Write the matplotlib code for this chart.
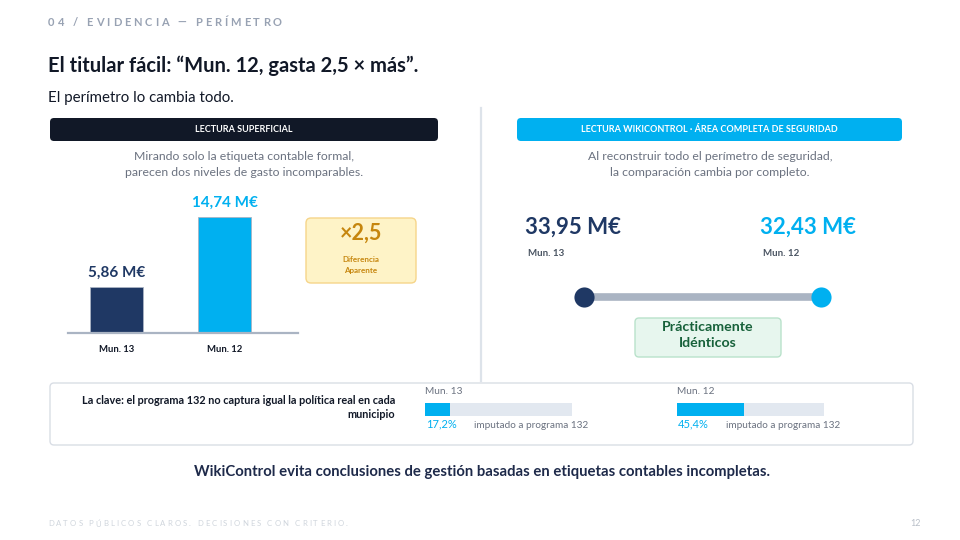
import matplotlib
matplotlib.use("Agg")
import matplotlib.pyplot as plt
from matplotlib.patches import FancyBboxPatch

# ---------------- data ----------------
categories = ["Mun. 13", "Mun. 12"]
superficial_values = [5.86, 14.74]          # M€ (programa 132)
complete_values = [33.95, 32.43]            # M€ (área completa de seguridad)
imputed_pct = [17.2, 45.4]                  # % imputado a programa 132
apparent_ratio = "×2,5"

FONT = ["Lato", "DejaVu Sans"]
NAVY = "#1f3864"
CYAN = "#00b0f0"
DARK = "#111827"
GRAY = "#6b7280"

W, H = 960, 540
fig = plt.figure(figsize=(W / 100, H / 100), dpi=100)
fig.patch.set_facecolor("white")

ax0 = fig.add_axes([0, 0, 1, 1], zorder=0)
ax0.set_xlim(0, W)
ax0.set_ylim(H, 0)
ax0.axis("off")


def px_axes(x0, y0, x1, y1, z=2):
    a = fig.add_axes([x0 / W, 1 - y1 / H, (x1 - x0) / W, (y1 - y0) / H], zorder=z)
    a.patch.set_alpha(0)
    return a


def txt(x, y, s, size, color=DARK, weight="normal", ha="left", va="center", **kw):
    return ax0.text(x, y, s, fontsize=size, color=color, fontweight=weight,
                    ha=ha, va=va, family=FONT, **kw)


def rbox(x0, y0, x1, y1, fc, ec="none", r=4, lw=1.0):
    p = FancyBboxPatch((x0, y0), x1 - x0, y1 - y0,
                       boxstyle=f"round,pad=0,rounding_size={r}",
                       fc=fc, ec=ec, lw=lw, zorder=1)
    ax0.add_patch(p)
    return p


renderer = fig.canvas.get_renderer()


def tracked(x, y, s, size, color, spacing, weight="bold"):
    cx = x
    for ch in s:
        if ch == " ":
            cx += size * 0.35 + spacing
            continue
        t = txt(cx, y, ch, size, color=color, weight=weight)
        cx += t.get_window_extent(renderer).width + spacing


# ---------------- header ----------------
tracked(48, 22, "04 / EVIDENCIA — PERÍMETRO", 8, "#98a2b3", 2.95)
txt(48, 66, "El titular fácil: “Mun. 12, gasta 2,5 × más”.", 14.5, DARK, "bold")
txt(48, 98, "El perímetro lo cambia todo.", 10.8, DARK)

# ---------------- left panel ----------------
rbox(50, 118, 438, 141, "#111827", r=4)
txt(244, 129.5, "LECTURA SUPERFICIAL", 6.5, "white", "bold", ha="center")
txt(244, 157, "Mirando solo la etiqueta contable formal,", 8.8, GRAY, ha="center")
txt(244, 172, "parecen dos niveles de gasto incomparables.", 8.8, GRAY, ha="center")

axb = px_axes(68, 190, 298, 333)
xpos = [0, 1]
bars = axb.bar(xpos, superficial_values, width=0.49, color=[NAVY, CYAN],
               edgecolor="#aab4c3", linewidth=0.6, zorder=2)
axb.set_xlim(-0.449, 1.681)
axb.set_ylim(0, 14.74 * 143 / 116)
for s in ["top", "right", "left"]:
    axb.spines[s].set_visible(False)
axb.spines["bottom"].set_color("#aab4c3")
axb.spines["bottom"].set_linewidth(1.6)
axb.set_yticks([])
axb.set_xticks(xpos)
axb.set_xticklabels(categories, fontsize=6.8, fontweight="bold", color=DARK, family=FONT)
axb.tick_params(axis="x", length=0, pad=9)
label_colors = [NAVY, CYAN]
for xi, v, c in zip(xpos, superficial_values, label_colors):
    axb.text(xi, v + 0.9, f"{v:.2f}".replace(".", ",") + " M€", ha="center", va="bottom",
             fontsize=11, fontweight="bold", color=c, family=FONT)

rbox(306, 218, 416, 283, "#fef3c7", ec="#f6d58a", r=5)
txt(361, 233, apparent_ratio, 15.5, "#c6860e", "bold", ha="center")
txt(361, 260, "Diferencia", 5.8, "#c6860e", "bold", ha="center")
txt(361, 270, "Aparente", 5.8, "#c6860e", "bold", ha="center")

# divider
ax0.plot([481, 481], [108, 381], color="#dde3ea", lw=1.6, zorder=1)

# ---------------- right panel ----------------
rbox(517, 118, 902, 141, CYAN, r=4)
txt(709.5, 129.5, "LECTURA WIKICONTROL · ÁREA COMPLETA DE SEGURIDAD", 6.5, "white", "bold", ha="center")
txt(710, 157, "Al reconstruir todo el perímetro de seguridad,", 8.8, GRAY, ha="center")
txt(710, 172, "la comparación cambia por completo.", 8.8, GRAY, ha="center")

val_x = [525, 760]
for x, v, c, cat in zip(val_x, complete_values, [NAVY, CYAN], categories):
    txt(x, 227, f"{v:.2f}".replace(".", ",") + " M€", 16, c, "bold")
    txt(x + 3, 253, cat, 7, "#4b5563", "bold")

axd = px_axes(570, 282, 835, 312)
axd.axis("off")
axd.set_xlim(-14 / 237, 1 + 14 / 237)
axd.set_ylim(-1, 1)
axd.plot([0, 1], [0, 0], color="#aab4c3", lw=5.5, solid_capstyle="butt", zorder=1)
for xi, c in zip([0, 1], [NAVY, CYAN]):
    axd.plot([xi], [0], "o", ms=14.5, color=c, mec="white", mew=0, zorder=2)

rbox(635, 318, 781, 357, "#e7f6ee", ec="#b9e2cb", r=4)
txt(708, 327, "Prácticamente", 10.2, "#17613a", "bold", ha="center")
txt(708, 343, "Idénticos", 10.2, "#17613a", "bold", ha="center")

# ---------------- bottom panel ----------------
rbox(50, 383, 913, 445, "white", ec="#d9dee5", r=4, lw=1.0)
txt(395, 401, "La clave: el programa 132 no captura igual la política real en cada", 7.8,
    DARK, "bold", ha="right")
txt(395, 415, "municipio", 7.8, DARK, "bold", ha="right")

track_x = [425, 677]
for x, cat, pct in zip(track_x, categories, imputed_pct):
    txt(x, 391, cat, 7.3, GRAY)
    axp = px_axes(x, 403, x + 147, 416)
    axp.axis("off")
    axp.set_xlim(0, 100)
    axp.set_ylim(-0.5, 0.5)
    axp.barh([0], [100], height=1.0, color="#e2e8f0", zorder=1)
    axp.barh([0], [pct], height=1.0, color=CYAN, zorder=2)
    txt(x + 1, 424, f"{pct:.1f}".replace(".", ",") + "%", 8, CYAN)
    txt(x + 49, 425, "imputado a programa 132", 7.2, GRAY)

txt(482, 472, "WikiControl evita conclusiones de gestión basadas en etiquetas contables incompletas.",
    10.7, "#1e2a4a", "bold", ha="center")

# ---------------- footer ----------------
tracked(48, 524, "DATOS PÚBLICOS CLAROS. DECISIONES CON CRITERIO.", 5.6, "#cfd5dc", 2.1,
        weight="normal")
txt(921, 523, "12", 6.5, "#b8bfc8", ha="right")

fig.savefig("out.png", dpi=100, facecolor="white")
